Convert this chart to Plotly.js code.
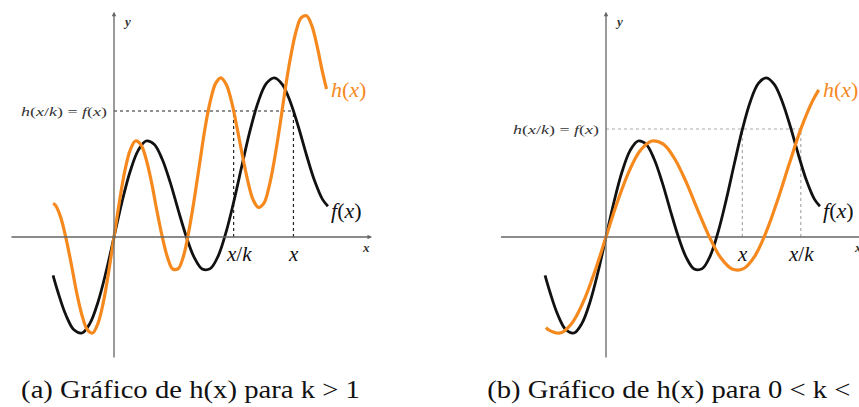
<!DOCTYPE html>
<html>
<head>
<meta charset="utf-8">
<script src="https://cdn.plot.ly/plotly-3.0.1.min.js"></script>
<style>
  html, body { margin: 0; padding: 0; background: #fff; }
  #chart { width: 859px; height: 407px; }
</style>
</head>
<body>
<div id="chart"></div>
<script>
// f(x): the original function (same in both panels)
const fX = [-3.04, -2.8, -2.4, -2.0, -1.6, -1.2, -0.8, -0.4, 0, 0.4, 0.8, 1.2, 1.6, 2.0, 2.4, 2.8,
            3.2, 3.6, 4.0, 4.4, 4.8, 5.2, 5.6, 6.0, 6.4, 6.8, 7.2, 7.6, 8.0, 8.4, 8.8, 9.2, 9.6,
            10.0, 10.4, 10.67];
const fY = [-0.96, -1.37, -1.95, -2.32, -2.40, -2.16, -1.63, -0.88, 0, 0.88, 1.63, 2.16, 2.40, 2.32,
            1.95, 1.37, 0.68, 0.02, -0.51, -0.80, -0.79, -0.47, 0.14, 0.94, 1.83, 2.69, 3.39, 3.84,
            3.98, 3.81, 3.37, 2.75, 2.05, 1.41, 0.94, 0.77];

// h(x) for k > 1 (compressed horizontally)
const hAX = [-3.04, -2.93, -2.67, -2.4, -2.13, -1.87, -1.6, -1.33, -1.07, -0.8, -0.53, -0.27, 0, 0.27,
             0.53, 0.8, 1.07, 1.33, 1.6, 1.87, 2.13, 2.4, 2.67, 2.93, 3.2, 3.47, 3.73, 4.0, 4.27, 4.53,
             4.8, 5.07, 5.33, 5.6, 5.87, 6.13, 6.4, 6.67, 6.93, 7.2, 7.47, 7.73, 8.0, 8.27, 8.53, 8.8,
             9.07, 9.33, 9.6, 9.87, 10.13, 10.4, 10.6];
const hAY = [0.84, 0.80, 0.51, -0.02, -0.68, -1.37, -1.95, -2.32, -2.40, -2.16, -1.63, -0.88, 0, 0.88,
             1.63, 2.16, 2.40, 2.32, 1.95, 1.37, 0.68, 0.02, -0.51, -0.80, -0.79, -0.47, 0.14, 0.94,
             1.83, 2.69, 3.39, 3.84, 3.98, 3.81, 3.37, 2.75, 2.05, 1.41, 0.94, 0.74, 0.84, 1.25, 1.93,
             2.77, 3.66, 4.48, 5.12, 5.48, 5.53, 5.28, 4.77, 4.12, 3.70];

// h(x) for 0 < k < 1 (stretched horizontally)
const hBX = [-2.99, -2.86, -2.29, -1.71, -1.14, -0.57, 0, 0.57, 1.14, 1.71, 2.29, 2.86, 3.43, 4.0, 4.57,
             5.14, 5.71, 6.29, 6.86, 7.43, 8.0, 8.57, 9.14, 9.71, 10.29, 10.61];
const hBY = [-2.26, -2.32, -2.40, -2.16, -1.63, -0.88, 0, 0.88, 1.63, 2.16, 2.40, 2.32, 1.95, 1.37, 0.68,
             0.02, -0.51, -0.80, -0.79, -0.47, 0.14, 0.94, 1.83, 2.69, 3.39, 3.68];

// scale factors and the marked point x with its level f(x)
const kA = 1.5, xA = 8.95, levelA = 3.15;
const kB = 0.7, xB = 6.8, levelB = 2.7;

const captions = ['(a) Gráfico de h(x) para k &gt; 1', '(b) Gráfico de h(x) para 0 &lt; k &lt; 1'];
const levelLabel = '<i>h</i>(<i>x</i>/<i>k</i>) = <i>f</i>(<i>x</i>)';

const BLACK = '#111111', ORANGE = '#F5891E', AXIS = '#666666';
const SERIF = 'Liberation Serif';

function curve(x, y, color, width, xa, ya) {
  return { x, y, xaxis: xa, yaxis: ya, type: 'scatter', mode: 'lines', hoverinfo: 'skip',
           line: { color, width, shape: 'spline', smoothing: 1 } };
}

const data = [
  curve(fX, fY, BLACK, 2.8, 'x', 'y'),
  curve(hAX, hAY, ORANGE, 3.2, 'x', 'y'),
  curve(fX, fY, BLACK, 2.8, 'x2', 'y2'),
  curve(hBX, hBY, ORANGE, 3.2, 'x2', 'y2')
];

function dotted(xref, yref, x0, y0, x1, y1, color) {
  return { type: 'line', xref, yref, x0, y0, x1, y1, layer: 'below',
           line: { color, width: 1.2, dash: 'dot' } };
}

const shapes = [
  // panel (a) guides
  dotted('x', 'y', 0, levelA, xA, levelA, '#222'),
  dotted('x', 'y', xA / kA, 0, xA / kA, levelA, '#222'),
  dotted('x', 'y', xA, 0, xA, levelA, '#222'),
  // panel (b) guides
  dotted('x2', 'y2', 0, levelB, xB / kB, levelB, '#aaa'),
  dotted('x2', 'y2', xB, 0, xB, levelB, '#aaa'),
  dotted('x2', 'y2', xB / kB, 0, xB / kB, levelB, '#aaa'),
  // panel (b) horizontal axis runs past the right edge
  { type: 'line', xref: 'x2', yref: 'y2', x0: -5.24, y0: 0, x1: 13.5, y1: 0, layer: 'below',
    line: { color: AXIS, width: 1.3 } }
];

function arrow(xref, yref, x, y, ax, ay) {
  return { xref, yref, axref: xref, ayref: yref, x, y, ax, ay, text: '', showarrow: true,
           arrowhead: 2, arrowsize: 0.7, arrowwidth: 1.3, arrowcolor: AXIS, standoff: 0 };
}

function label(xref, yref, x, y, text, opts) {
  return Object.assign({ xref, yref, x, y, text, showarrow: false, yanchor: 'middle',
                         font: { family: SERIF, size: 21, color: BLACK } }, opts || {});
}

const axisFont = { family: SERIF, size: 13, color: '#333' };
const annotations = [
  // axes
  arrow('x', 'y', 12.87, 0, -5.19, 0),
  arrow('x', 'y', 0, 5.63, 0, -3.05),
  arrow('x2', 'y2', 0, 5.63, 0, -3.05),
  label('x', 'y', 12.57, -0.25, '<b><i>x</i></b>', { font: axisFont }),
  label('x', 'y', 0.35, 5.4, '<b><i>y</i></b>', { xanchor: 'left', font: axisFont }),
  label('x2', 'y2', 12.55, -0.25, '<b><i>x</i></b>', { font: axisFont }),
  label('x2', 'y2', 0.35, 5.4, '<b><i>y</i></b>', { xanchor: 'left', font: axisFont }),

  // panel (a) labels
  label('x', 'y', 10.7, 3.7, '<i>h</i>(<i>x</i>)', { xanchor: 'left', font: { family: SERIF, size: 22, color: ORANGE } }),
  label('x', 'y', 10.7, 0.675, '<i>f</i>(<i>x</i>)', { xanchor: 'left', font: { family: SERIF, size: 22, color: BLACK } }),
  label('x', 'y', xA / kA + 0.25, -0.42, '<i>x</i>/<i>k</i>'),
  label('x', 'y', xA, -0.42, '<i>x</i>'),
  label('x', 'y', -2.49, levelA, levelLabel, { font: { family: SERIF, size: 13, color: '#333' } }),

  // panel (b) labels
  label('x2', 'y2', 10.7, 3.7, '<i>h</i>(<i>x</i>)', { xanchor: 'left', font: { family: SERIF, size: 22, color: ORANGE } }),
  label('x2', 'y2', 10.7, 0.675, '<i>f</i>(<i>x</i>)', { xanchor: 'left', font: { family: SERIF, size: 22, color: BLACK } }),
  label('x2', 'y2', xB, -0.42, '<i>x</i>'),
  label('x2', 'y2', xB / kB, -0.42, '<i>x</i>/<i>k</i>'),
  label('x2', 'y2', -2.49, levelB, levelLabel, { font: { family: SERIF, size: 13, color: '#333' } }),

  // captions
  label('paper', 'paper', 190.5 / 859, 17 / 407, captions[0], { xanchor: 'center', font: { family: SERIF, size: 25, color: '#111' } }),
  label('paper', 'paper', 679.5 / 859, 17 / 407, captions[1], { xanchor: 'center', font: { family: SERIF, size: 25, color: '#111' } })
];

const hidden = { visible: false, showgrid: false, zeroline: false, fixedrange: true };

const layout = {
  width: 859, height: 407,
  margin: { l: 0, r: 0, t: 0, b: 0 },
  paper_bgcolor: '#ffffff', plot_bgcolor: '#ffffff',
  showlegend: false,
  xaxis:  Object.assign({ domain: [0, 430 / 859], range: [-5.686, 15.761] }, hidden),
  yaxis:  Object.assign({ domain: [0, 1], range: [-4.25, 5.925] }, hidden),
  xaxis2: Object.assign({ domain: [430 / 859, 1], range: [-8.778, 12.618], anchor: 'y2' }, hidden),
  yaxis2: Object.assign({ domain: [0, 1], range: [-4.25, 5.925], anchor: 'x2' }, hidden),
  shapes, annotations
};

// typeset width and left edge (page pixels) for captions and level labels
const textFits = [
  { text: '(a) Gráfico de h(x) para k > 1', left: 21, width: 339 },
  { text: '(b) Gráfico de h(x) para 0 < k < 1', left: 487, width: 385 },
  { text: 'h(x/k) = f(x)', left: 21, width: 86 },
  { text: 'h(x/k) = f(x)', left: 513, width: 86 }
];

function fitText(gd) {
  const host = gd.getBoundingClientRect();
  const used = new Set();
  gd.querySelectorAll('text.annotation-text').forEach(t => {
    const i = textFits.findIndex((f, j) => !used.has(j) && f.text === t.textContent);
    if (i < 0) return;
    used.add(i);
    const fit = textFits[i];
    const box = t.getBBox();
    const rect = t.getBoundingClientRect();
    const offset = rect.left - host.left - box.x;   // local-to-page shift along x
    const s = fit.width / box.width;
    const target = fit.left - offset;
    t.setAttribute('transform', `translate(${target},0) scale(${s},1) translate(${-box.x},0)`);
  });
}

Plotly.newPlot('chart', data, layout, { staticPlot: true, displayModeBar: false }).then(fitText);
</script>
</body>
</html>
